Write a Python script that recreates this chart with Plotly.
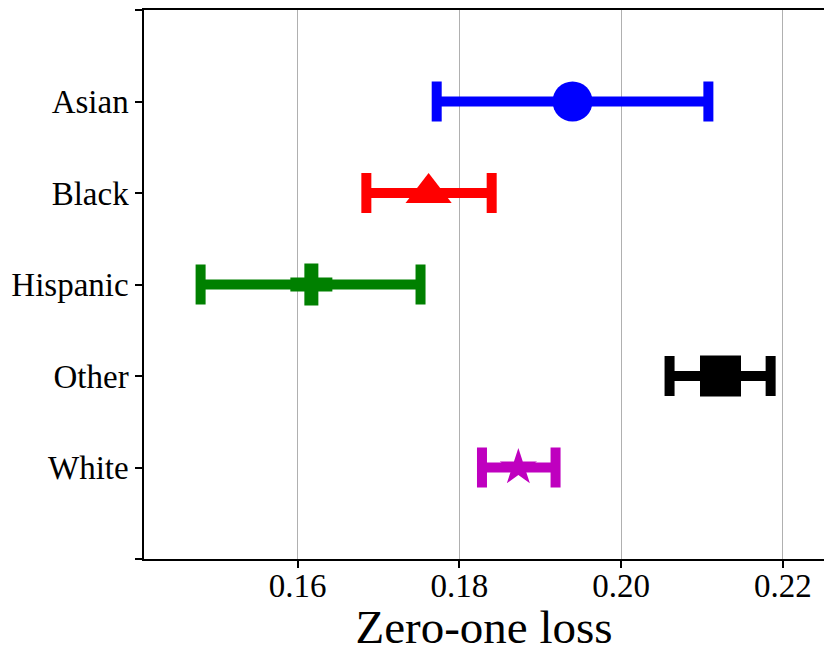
import plotly.graph_objects as go

groups = ["Asian", "Black", "Hispanic", "Other", "White"]
positions = [4, 3, 2, 1, 0]
means = [0.1940, 0.1762, 0.1617, 0.2123, 0.1873]
err_plus = [0.0168, 0.0078, 0.0135, 0.0062, 0.0046]
err_minus = [0.0168, 0.0077, 0.0137, 0.0063, 0.0045]
colors = ["#0000ff", "#ff0000", "#008000", "#000000", "#bf00bf"]
symbols = ["circle", "triangle-up", "cross", "square", "star"]
sizes = [40, 40, 35, 41, 28]

x_ticks = [0.16, 0.18, 0.20, 0.22]
x_ticktext = ["0.16", "0.18", "0.20", "0.22"]
y_ticks = [-1, 0, 1, 2, 3, 4, 5]
y_ticktext = ["", "White", "Other", "Hispanic", "Black", "Asian", ""]

FONT = "Liberation Serif"

fig = go.Figure()
for g, p, m, ep, em, c, s, sz in zip(groups, positions, means, err_plus, err_minus, colors, symbols, sizes):
    fig.add_trace(go.Scatter(
        x=[m], y=[p], mode="markers", name=g,
        marker=dict(symbol=s, size=sz, color=c, line=dict(width=0)),
        error_x=dict(type="data", array=[ep], arrayminus=[em], symmetric=False,
                     color=c, thickness=10, width=20),
        showlegend=False,
    ))

fig.update_layout(
    width=824, height=653,
    margin=dict(l=144, r=0, t=10, b=94),
    plot_bgcolor="white", paper_bgcolor="white",
    font=dict(family=FONT, color="black"),
)
fig.update_xaxes(
    range=[0.1410, 0.2251],
    tickvals=x_ticks, ticktext=x_ticktext,
    showgrid=True, gridcolor="#b0b0b0", gridwidth=1,
    zeroline=False,
    showline=True, linecolor="black", linewidth=1.5, mirror=True,
    ticks="outside", ticklen=7, tickwidth=1.5, tickcolor="black",
    tickfont=dict(size=33, family=FONT),
    ticklabelstandoff=-10,
    title=dict(text="Zero-one loss", font=dict(size=47, family=FONT), standoff=14),
)
fig.update_yaxes(
    range=[-1, 5],
    tickvals=y_ticks, ticktext=y_ticktext,
    showgrid=False, zeroline=False,
    showline=True, linecolor="black", linewidth=1.5,
    ticks="outside", ticklen=7, tickwidth=1.5, tickcolor="black",
    tickfont=dict(size=33, family=FONT),
)

fig.write_html("out.html")
